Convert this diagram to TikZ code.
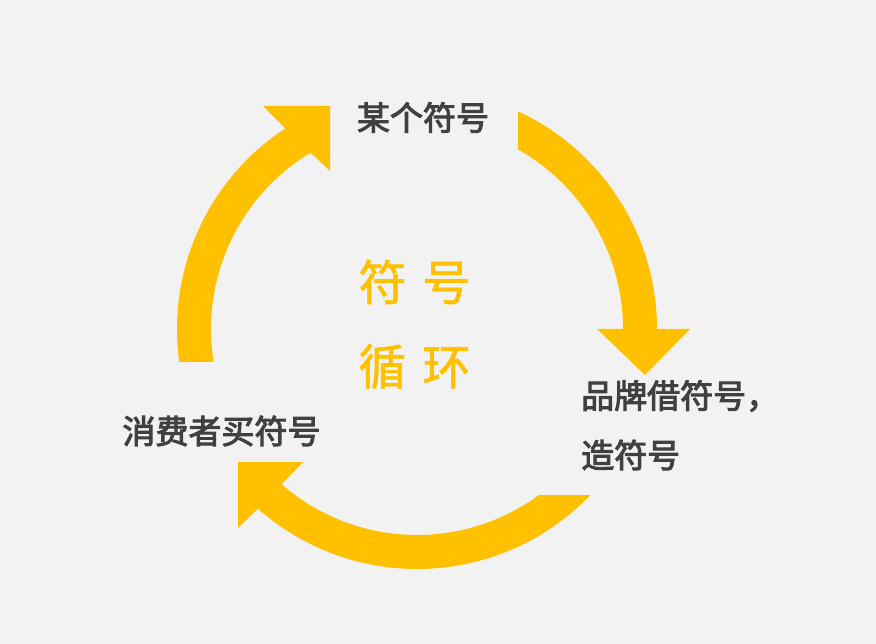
\documentclass[tikz,border=0pt]{standalone}
\usepackage{fontspec}
\newfontfamily\cjklabel[FakeBold=3]{Noto Sans CJK SC}
\newfontfamily\cjkcentre[FakeBold=1.4]{Noto Sans CJK SC}
\usetikzlibrary{calc}
\definecolor{bgcolor}{HTML}{F2F2F2}
\definecolor{arrowyellow}{HTML}{FFC000}
\definecolor{labelgray}{HTML}{404040}
\begin{document}
\begin{tikzpicture}[x=1pt,y=-1pt,
  arrowshape/.style={fill=arrowyellow, draw=none},
  labeltext/.style={font=\cjklabel\fontsize{33}{40}\selectfont, text=labelgray, inner sep=0pt},
  centertext/.style={font=\cjkcentre\fontsize{48}{58}\selectfont, text=arrowyellow, inner sep=0pt}]
\fill[bgcolor] (0,0) rectangle (876,644);
\useasboundingbox (0,0) rectangle (876,644);
\coordinate (C) at (417,329);
% left arrow (up towards top)
\fill[arrowshape] ($(C)+(172.1:240)$) arc[start angle=172.1, end angle=236.7, radius=240]
  -- (263,106) -- (330,106) -- (330,171) -- ($(C)+(238.85:206)$)
  arc[start angle=238.85, end angle=170.8, radius=206] -- cycle;
% right arrow (down towards right label)
\fill[arrowshape] ($(C)+(-65.1:240)$) arc[start angle=-65.1, end angle=0, radius=240]
  -- (690,329) -- (645,375) -- (597,329) -- ($(C)+(0:206)$)
  arc[start angle=0, end angle=-60.6, radius=206] -- cycle;
% bottom arrow (towards left label)
\fill[arrowshape] ($(C)+(43.8:240)$) arc[start angle=43.8, end angle=131.5, radius=240]
  -- (238,528) -- (238,462) -- (303,462) -- ($(C)+(131.1:206)$)
  arc[start angle=131.1, end angle=53.7, radius=206] -- cycle;
% centre text
\node[centertext] (ct1) at (414.5,282) {符\hspace{16pt}号};
\node[centertext] (ct2) at (414.5,366.5) {循\hspace{16pt}环};
% labels
\node[labeltext] (top) at (423,117.5) {某个符号};
\node[labeltext, anchor=west] (right1) at (581,396) {品牌借符号，};
\node[labeltext, anchor=west] (right2) at (581,455) {造符号};
\node[labeltext] (left) at (221.5,431) {消费者买符号};
\end{tikzpicture}
\end{document}
